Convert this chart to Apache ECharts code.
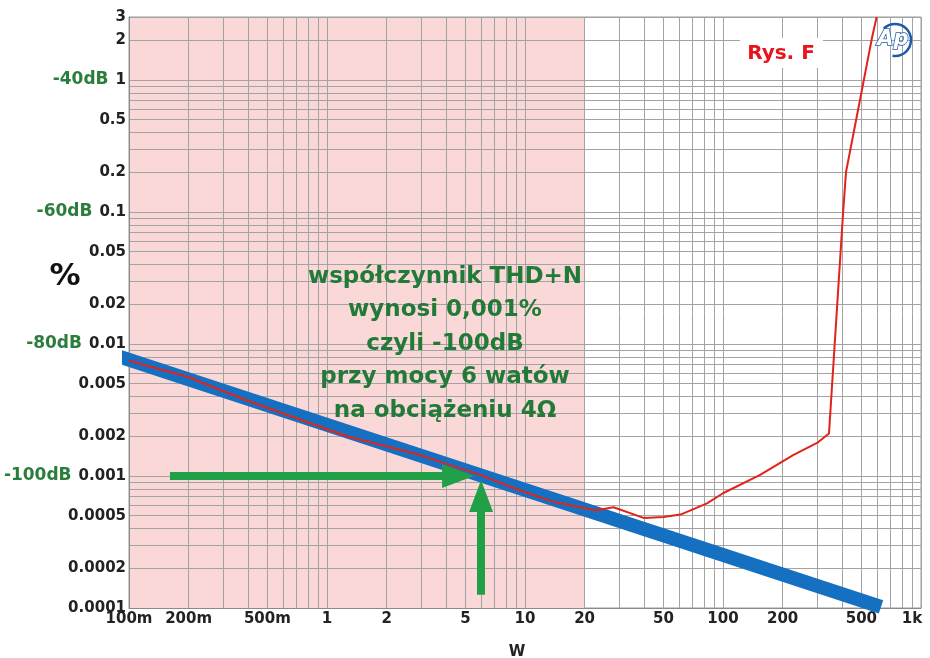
<!DOCTYPE html>
<html>
<head>
<meta charset="utf-8">
<script src="https://cdn.jsdelivr.net/npm/echarts@6/dist/echarts.min.js"></script>
<style>html,body{margin:0;padding:0;background:#fff;}#main{width:930px;height:658px;}</style>
</head>
<body>
<div id="main"></div>
<script>
// ---- data ----
const xGridValues = [0.1,0.2,0.3,0.4,0.5,0.6,0.7,0.8,0.9,1,2,3,4,5,6,7,8,9,10,20,30,40,50,60,70,80,90,100,200,300,400,500,600,700,800,900,1000];
const xLabelValues = [0.1,0.2,0.5,1,2,5,10,20,50,100,200,500,1000];
const xLabelTexts = ['100m','200m','500m','1','2','5','10','20','50','100','200','500','1k'];
const yGridValues = [0.0001,0.0002,0.0003,0.0004,0.0005,0.0006,0.0007,0.0008,0.0009,0.001,0.002,0.003,0.004,0.005,0.006,0.007,0.008,0.009,0.01,0.02,0.03,0.04,0.05,0.06,0.07,0.08,0.09,0.1,0.2,0.3,0.4,0.5,0.6,0.7,0.8,0.9,1,2,3];
const yLabelValues = [0.0001,0.0002,0.0005,0.001,0.002,0.005,0.01,0.02,0.05,0.1,0.2,0.5,1,2,3];
const yLabelTexts = ['0.0001','0.0002','0.0005','0.001','0.002','0.005','0.01','0.02','0.05','0.1','0.2','0.5','1','2','3'];
const dbValues = [1,0.1,0.01,0.001];
const dbTexts = ['-40dB','-60dB','-80dB','-100dB'];

const bluePower = [0.09, 628];
const blueThd = [0.0080, 0.000102];

const redPower = [0.1,0.2,0.4,1.26,2.95,5.93,9.4,13.8,20,23,28,40,50,61,83,100,154,226,302,343,404,418,566,597];
const redThd = [0.0075,0.0056,0.0037,0.002,0.00144,0.00102,0.00078,0.00064,0.00057,0.00055,0.00058,0.00048,0.00049,0.00051,0.00062,0.00074,0.00102,0.00144,0.0018,0.0021,0.098,0.2,2.1,3.0];

const shadedRange = [0.1, 20];
const arrowH = [[0.161, 0.001],[4.59, 0.001]];
const arrowV = [[6.0, 0.000126],[6.0, 0.000705]];

const noteLines = ['współczynnik THD+N','wynosi 0,001%','czyli -100dB','przy mocy 6 watów','na obciążeniu 4Ω'];

// ---- helpers ----
function near(a,b){return Math.abs(Math.log10(a)-Math.log10(b))<1e-6;}
function lookup(v, vals, texts){for(let i=0;i<vals.length;i++){if(near(v,vals[i]))return texts[i];}return '';}

const FONT = 'DejaVu Sans';
const chart = echarts.init(document.getElementById('main'), null, {renderer:'canvas'});

const option = {
  backgroundColor: '#ffffff',
  animation: false,
  grid: {left:129, right:9, top:17, bottom:50, containLabel:false, outerBoundsMode:'none', show:true, borderColor:'#9a9a9a', borderWidth:1, backgroundColor:'transparent'},
  xAxis: {
    type:'log', logBase:10, min:0.1, max:1000, z:1,
    name:'W', nameLocation:'middle', nameGap:37,
    nameTextStyle:{fontFamily:FONT, fontSize:15, fontWeight:'bold', color:'#222', padding:[0,16,0,0]},
    axisLine:{show:true, lineStyle:{color:'#8a8a8a', width:1}},
    axisTick:{show:false, customValues:xGridValues},
    axisLabel:{customValues:xLabelValues, margin:4, fontFamily:FONT, fontSize:15, fontWeight:'bold', color:'#222',
      formatter:function(v){const t = lookup(v,xLabelValues,xLabelTexts); return t==='1k' ? '{k|1k}' : t;},
      rich:{k:{fontFamily:FONT, fontSize:15, fontWeight:'bold', color:'#222', padding:[0,18,0,0]}}},
    splitLine:{show:true, lineStyle:{color:'#a3a3a3', width:1}},
    minorSplitLine:{show:false}
  },
  yAxis: {
    type:'log', logBase:10, min:0.0001, max:3, z:1,
    axisLine:{show:true, lineStyle:{color:'#8a8a8a', width:1}},
    axisTick:{show:false, customValues:yGridValues},
    axisLabel:{customValues:yLabelValues, margin:3, fontFamily:FONT, fontSize:15, fontWeight:'bold', color:'#222', align:'right',
      formatter:function(v){
        const t = lookup(v,yLabelValues,yLabelTexts);
        const d = lookup(v,dbValues,dbTexts);
        return d ? '{g|'+d+'}{n|'+t+'}' : '{n|'+t+'}';
      },
      rich:{
        g:{fontFamily:FONT, fontSize:17, fontWeight:'bold', color:'#2b7d3c', padding:[0,7,0,0]},
        n:{fontFamily:FONT, fontSize:15, fontWeight:'bold', color:'#222'}
      }},
    splitLine:{show:true, lineStyle:{color:'#a3a3a3', width:1}},
    minorSplitLine:{show:false}
  },
  series: [
    {
      name:'shade', type:'line', data:[], z:0, silent:true,
      markArea:{silent:true, z:0, itemStyle:{color:'#fad8d8'}, data:[[{xAxis:shadedRange[0]},{xAxis:shadedRange[1]}]]}
    },
    {
      name:'noise', type:'line', z:2, clip:false, showSymbol:false, symbol:'none', silent:true,
      lineStyle:{color:'#1670c2', width:14, cap:'butt'},
      data: bluePower.map((p,i)=>[p, blueThd[i]])
    },
    {
      name:'THD+N', type:'line', z:3, showSymbol:false, symbol:'none', silent:true,
      lineStyle:{color:'#e2231a', width:2},
      data: redPower.map((p,i)=>[p, redThd[i]])
    },
    {
      name:'arrows', type:'line', data:[], z:4, silent:true,
      markLine:{
        silent:true, animation:false,
        symbol:['none','triangle'], symbolSize:[24,32],
        lineStyle:{color:'#22a047', width:8, type:'solid'},
        itemStyle:{color:'#22a047'},
        label:{show:false},
        data:[
          [{coord:arrowH[0]},{coord:arrowH[1]}],
          [{coord:arrowV[0]},{coord:arrowV[1]}]
        ]
      }
    }
  ],
  graphic: [
    {type:'text', x:65, y:277, z:10, style:{text:'%', font:'bold 31px "DejaVu Sans"', fill:'#111', textAlign:'center', textVerticalAlign:'middle'}},
    {type:'text', x:445, y:344, z:10, style:{text:noteLines.join('\n'), font:'bold 23px "DejaVu Sans"', fill:'#217a38', textAlign:'center', textVerticalAlign:'middle', lineHeight:33.5}},
    {type:'rect', x:740, y:38, z:10, shape:{width:83, height:30}, style:{fill:'#ffffff'}},
    {type:'text', x:781, y:54, z:11, style:{text:'Rys. F', font:'bold 20px "DejaVu Sans"', fill:'#e8141c', textAlign:'center', textVerticalAlign:'middle'}},
    {type:'arc', z:11, shape:{cx:895, cy:40, r:16, startAngle:-Math.PI*0.75, endAngle:Math.PI*0.55}, style:{stroke:'#1d5aa8', lineWidth:2.5, fill:null}},
    {type:'text', x:893, y:40, z:11, style:{text:'Ap', font:'italic bold 21px "DejaVu Sans"', fill:'#ffffff', stroke:'#1d5aa8', lineWidth:1.5, textAlign:'center', textVerticalAlign:'middle'}}
  ]
};
chart.setOption(option);
</script>
</body>
</html>
